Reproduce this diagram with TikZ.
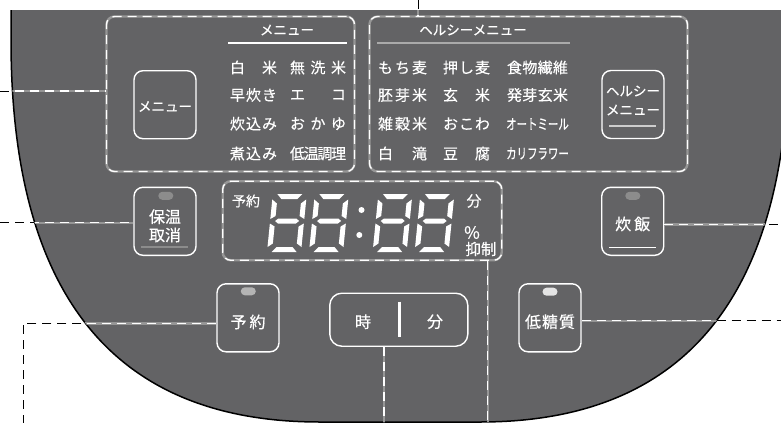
\documentclass[tikz,border=0pt]{standalone}
\usepackage{fontspec}
\setmainfont{Noto Sans CJK JP}[FakeBold=0.4]
\usepackage{graphicx}
\definecolor{panelgray}{RGB}{99,99,101}
\definecolor{halo}{RGB}{150,150,150}
\definecolor{ledA}{RGB}{140,140,140}
\definecolor{ledB}{RGB}{180,180,180}
\definecolor{ledC}{RGB}{228,228,228}
\definecolor{ulgray}{RGB}{140,140,140}
\definecolor{ullight}{RGB}{205,205,205}
\definecolor{hdgray}{RGB}{170,170,170}
\newcommand\jw[2]{\makebox[#1][s]{#2}}
\newcommand\gp{\hskip 0pt plus 1fil minus 1fil\relax}
\newcommand\segdigit[2]{%
  \begin{scope}[shift={(#1,#2)},xslant=0.1]
    \fill[white] (4.5,0)--(29.5,0)--(25,5)--(9,5)--cycle;
    \fill[white] (0,5.5)--(5,9.5)--(5,22)--(0,25)--cycle;
    \fill[white] (34,5.5)--(34,25)--(29,22)--(29,9.5)--cycle;
    \fill[white] (5,27)--(8,24.5)--(26,24.5)--(29,27)--(26,29.5)--(8,29.5)--cycle;
    \fill[white] (0,29.5)--(5,32.5)--(5,49.5)--(0,53)--cycle;
    \fill[white] (34,29.5)--(34,53)--(29,49.5)--(29,32.5)--cycle;
    \fill[white] (9,53)--(25,53)--(29.5,58)--(4.5,58)--cycle;
  \end{scope}}
\def\panelpath{(11,10) -- (11,40) .. controls (11,320) and (135,422) .. (320,422) -- (480,422) .. controls (665,422) and (789,320) .. (789,40) -- (789,10) -- cycle}
\newcommand\drawleaders[1]{%
  \draw[#1] (L1) -- (L1 -| mbox.west);
  \draw[#1] (L2) -- (L2 |- hbox.north);
  \draw[#1] (L3) -- (L3 -| hoon.west);
  \draw[#1] (L4a -| yoyaku.west) -| (L4);
  \draw[#1] (L5 |- jifun.south) -- (L5);
  \draw[#1] (L6 |- disp.south) -- (L6);
  \draw[#1] (L7 -| suihan.east) -- (L7);
  \draw[#1] (L8 -| teitou.east) -- (L8);}
\tikzset{
  btn/.style={draw=white, line width=1.4pt, rounded corners=9pt, minimum width=62pt, minimum height=68pt, inner sep=0pt},
  grpbox/.style={draw=white, line width=1.3pt, dash pattern=on 9pt off 6pt, rounded corners=8pt, inner sep=0pt,
     preaction={draw=halo, line width=2.4pt, solid}},
  leadout/.style={draw=black, line width=0.9pt, dash pattern=on 9pt off 6pt},
  leadin/.style={draw=white, line width=1.3pt, dash pattern=on 9pt off 6pt, preaction={draw=halo, line width=2.4pt, solid}},
  lbl/.style={text=white, inner sep=0pt, font=\fontsize{16}{16}\selectfont},
  item/.style={text=white, inner sep=0pt, font=\fontsize{15}{15}\selectfont},
  small/.style={text=white, inner sep=0pt, font=\fontsize{13.5}{13.5}\selectfont},
  head/.style={text=white, inner sep=0pt, font=\fontsize{13.5}{13.5}\selectfont},
  led/.style={draw=none, rounded corners=4pt, minimum width=15pt, minimum height=8pt, inner sep=0pt}
}
\begin{document}
\begin{tikzpicture}[x=1pt,y=-1pt]
\useasboundingbox (0,0) rectangle (781,423);
% panel
\fill[panelgray] \panelpath;
\draw[black, line width=1.5pt] (11,10) -- (11,40) .. controls (11,320) and (135,422) .. (320,422) -- (480,422) .. controls (665,422) and (789,320) .. (789,40);
% group boxes
\node[grpbox, minimum width=248pt, minimum height=155pt] (mbox) at (230.5,94) {};
\node[grpbox, minimum width=318pt, minimum height=155pt] (hbox) at (528.5,94) {};
\node[grpbox, minimum width=279pt, minimum height=79pt] (disp) at (362.25,220.75) {};
% menu group
\node[head] (mhead) at (287,30) {メニュー};
\draw[white, line width=1.8pt] (228,43) -- (347,43);
\node[btn] (menub) at (165,104.7) {};
\node[small] (menubt) at (165,106.5) {メニュー};
\node[item] (m11) at (253.5,67.5) {\jw{47pt}{白\gp 米}};
\node[item] (m12) at (253.5,95) {\jw{47pt}{早\gp 炊\gp き}};
\node[item] (m13) at (253.5,123.7) {\jw{47pt}{炊\gp 込\gp み}};
\node[item] (m14) at (253.5,153.5) {\jw{47pt}{煮\gp 込\gp み}};
\node[item] (m21) at (318,67.5) {\jw{56pt}{無\gp 洗\gp 米}};
\node[item] (m22) at (318,95) {\jw{56pt}{エ\gp コ}};
\node[item] (m23) at (318,123.7) {\jw{56pt}{お\gp か\gp ゆ}};
\node[item] (m24) at (318,153.5) {\jw{56pt}{低\gp 温\gp 調\gp 理}};
% health group
\node[head] (hhead) at (473,30) {ヘルシーメニュー};
\draw[hdgray, line width=2pt] (377,43) -- (570,43);
\node[item] (h11) at (402.5,67.5) {\jw{49pt}{も\gp ち\gp 麦}};
\node[item] (h12) at (402.5,95) {\jw{49pt}{胚\gp 芽\gp 米}};
\node[item] (h13) at (402.5,123.7) {\jw{49pt}{雑\gp 穀\gp 米}};
\node[item] (h14) at (402.5,153.5) {\jw{49pt}{白\gp 滝}};
\node[item] (h21) at (466.5,67.5) {\jw{47pt}{押\gp し\gp 麦}};
\node[item] (h22) at (466.5,95) {\jw{47pt}{玄\gp 米}};
\node[item] (h23) at (466.5,123.7) {\jw{47pt}{お\gp こ\gp わ}};
\node[item] (h24) at (466.5,153.5) {\jw{47pt}{豆\gp 腐}};
\node[item] (h31) at (537.5,67.5) {\jw{61pt}{食\gp 物\gp 繊\gp 維}};
\node[item] (h32) at (537.5,95) {\jw{61pt}{発\gp 芽\gp 玄\gp 米}};
\node[item] (h33) at (537.5,124) {\scalebox{0.72}[1]{\fontsize{14.5}{14.5}\selectfont オートミール}};
\node[item] (h34) at (537.5,153.5) {\scalebox{0.72}[1]{\fontsize{14.5}{14.5}\selectfont カリフラワー}};
\node[btn] (healthb) at (633,104.5) {};
\node[small] (hb1) at (633,91) {ヘルシー};
\node[small] (hb2) at (633,110) {メニュー};
\draw[ullight, line width=1.5pt] (609,126) -- (656,126);
% keep warm / cancel
\node[btn] (hoon) at (165,221.3) {};
\node[led, fill=ledA] (hoonled) at (165.8,195.8) {};
\node[lbl] (hoon1) at (165,216.7) {保温};
\node[lbl] (hoon2) at (165,235) {取消};
\draw[ulgray, line width=1.5pt] (141,247) -- (188,247);
% cook
\node[btn] (suihan) at (632.7,221.3) {};
\node[led, fill=ledA] (suihanled) at (632.8,195.8) {};
\node[lbl] (suihant) at (632.7,224) {\jw{35pt}{炊\gp 飯}};
\draw[white, line width=1.5pt] (609,247.7) -- (656,247.7);
% timer
\node[btn] (yoyaku) at (248,317.8) {};
\node[led, fill=ledB] (yoyakuled) at (248.3,291.3) {};
\node[lbl] (yoyakut) at (248,322) {\jw{35pt}{予\gp 約}};
% low sugar
\node[btn] (teitou) at (550,317.8) {};
\node[led, fill=ledC] (teitouled) at (550,291.7) {};
\node[lbl] (teitout) at (550,321.7) {\jw{50pt}{低\gp 糖\gp 質}};
% hour / minute
\node[btn, minimum width=138pt, minimum height=53pt, rounded corners=12pt] (jifun) at (398.8,319.7) {};
\node[lbl] (jit) at (363,321.7) {時};
\node[lbl] (funt) at (435,321.7) {分};
\draw[white, line width=3pt] (399,301.7) -- (399,336.7);
% display
\node[head, font=\fontsize{14}{14}\selectfont] (dyoyaku) at (246,201) {予約};
\node[item] (dfun) at (474,201) {分};
\node[head, font=\fontsize{17}{17}\selectfont] (dpct) at (472,232.5) {\%};
\node[lbl, font=\fontsize{15.5}{15.5}\selectfont] (dyoku) at (481,249) {抑制};
\segdigit{272.8}{194}
\segdigit{314.8}{194}
\segdigit{378.4}{194}
\segdigit{420.4}{194}
\fill[white] (361.5,210) circle (3);
\fill[white] (359.3,235) circle (3);
% leaders
\coordinate (L1) at (0,91);
\coordinate (L2) at (418,0);
\coordinate (L3) at (0,222.7);
\coordinate (L4a) at (0,323.3);
\coordinate (L4) at (23,423);
\coordinate (L5) at (384,423);
\coordinate (L6) at (487.7,423);
\coordinate (L7) at (781,224.3);
\coordinate (L8) at (781,320.7);
\drawleaders{leadout}
\begin{scope}
  \clip \panelpath;
  \drawleaders{leadin}
\end{scope}
\end{tikzpicture}
\end{document}
